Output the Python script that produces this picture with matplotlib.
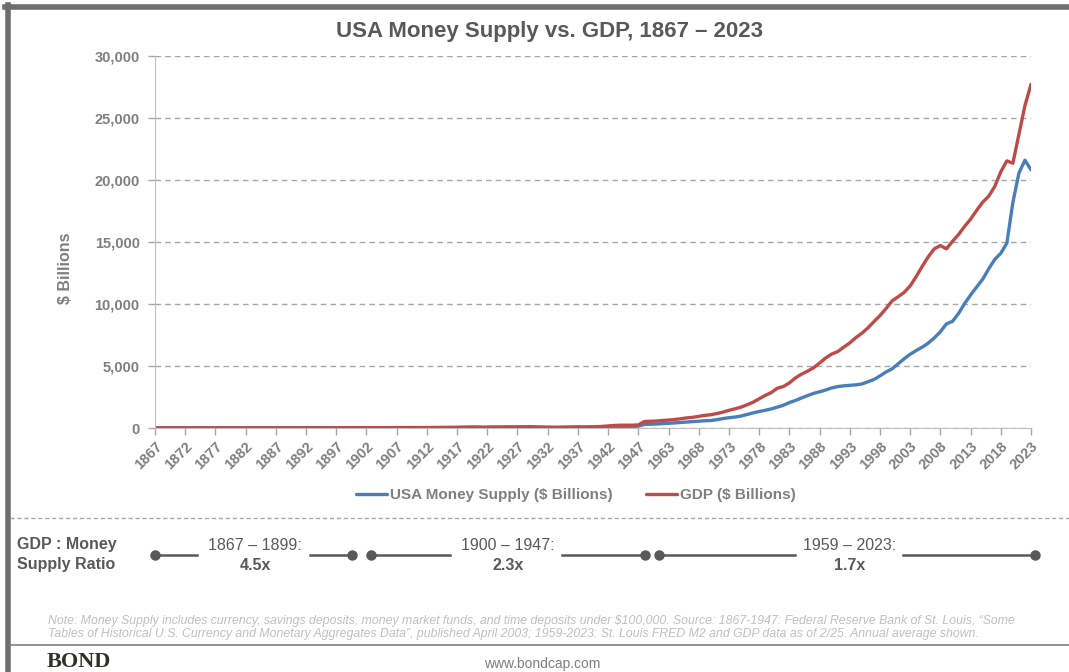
import matplotlib
matplotlib.use("Agg")
import matplotlib.pyplot as plt
from matplotlib.lines import Line2D
from matplotlib.ticker import FuncFormatter

plt.rcParams['font.family'] = ['Liberation Sans', 'DejaVu Sans']

# annual data, $ billions (1948-1958 not in the series)
years_early = list(range(1867, 1948))
years_late = list(range(1959, 2024))

money_early = [1.28, 1.30, 1.32, 1.35, 1.50, 1.60, 1.66, 1.70, 1.76, 1.74,
               1.70, 1.65, 1.78, 2.10, 2.55, 2.80, 2.95, 3.00, 3.10, 3.35,
               3.55, 3.65, 3.90, 4.19, 4.33, 4.70, 4.60, 4.60, 4.86, 4.83,
               5.10, 5.60, 6.40, 6.60, 7.48, 8.17, 8.68, 9.24, 10.2, 11.1,
               11.6, 11.4, 12.7, 13.3, 14.1, 15.1, 15.7, 16.4, 17.6, 20.8,
               24.4, 26.7, 31.0, 34.8, 32.8, 33.7, 36.6, 38.6, 42.1, 43.7,
               44.7, 46.4, 46.6, 45.7, 42.7, 36.0, 32.2, 34.4, 39.1, 43.5,
               45.7, 45.5, 49.3, 55.2, 62.5, 71.2, 89.9, 106.8, 126.6, 138.7,
               146.0]
gdp_early = [8.3, 8.1, 7.9, 7.8, 7.9, 8.6, 9.0, 8.9, 8.6, 8.6,
             8.9, 8.9, 9.5, 10.4, 10.9, 11.7, 11.8, 11.3, 11.1, 11.6,
             12.3, 12.4, 13.0, 13.5, 13.9, 14.3, 14.0, 12.9, 13.9, 13.7,
             14.3, 16.0, 17.3, 18.8, 20.6, 21.6, 22.9, 22.9, 25.0, 28.7,
             30.4, 27.9, 32.2, 33.4, 34.3, 37.4, 39.1, 36.5, 38.7, 49.6,
             59.7, 75.8, 78.3, 88.4, 73.6, 73.4, 85.4, 86.9, 90.6, 97.0,
             95.5, 97.4, 104.6, 92.2, 77.4, 59.5, 57.2, 66.8, 74.2, 84.8,
             93.0, 87.4, 93.4, 102.9, 129.3, 166.0, 203.1, 224.4, 228.0, 227.5,
             249.6]

money_late = [290, 305, 324, 350, 379, 410, 444, 472, 505, 549,
              584, 601, 674, 758, 831, 881, 964, 1087, 1220, 1323,
              1429, 1540, 1680, 1830, 2050, 2220, 2420, 2610, 2790, 2920,
              3060, 3230, 3340, 3400, 3440, 3480, 3550, 3730, 3910, 4200,
              4520, 4770, 5180, 5580, 5950, 6250, 6520, 6850, 7270, 7760,
              8400, 8600, 9230, 10030, 10720, 11370, 12000, 12830, 13600, 14090,
              14900, 18200, 20550, 21600, 20820]
gdp_late = [522, 543, 563, 605, 638, 686, 744, 815, 862, 943,
            1019, 1073, 1165, 1280, 1425, 1545, 1684, 1873, 2082, 2352,
            2627, 2857, 3207, 3344, 3634, 4037, 4339, 4580, 4855, 5236,
            5642, 5963, 6158, 6520, 6859, 7287, 7640, 8073, 8578, 9063,
            9631, 10251, 10582, 10936, 11458, 12214, 13037, 13815, 14452, 14713,
            14449, 15049, 15600, 16254, 16843, 17551, 18206, 18695, 19477, 20656,
            21540, 21354, 23681, 26007, 27721]

periods = ["1867 \u2013 1899:", "1900 \u2013 1947:", "1959 \u2013 2023:"]
ratios = ["4.5x", "2.3x", "1.7x"]

years = years_early + years_late
money = money_early + money_late
gdp = gdp_early + gdp_late
idx = list(range(len(years)))

W, H = 1069, 672
fig = plt.figure(figsize=(W / 100, H / 100), dpi=100)


def fx(x):
    return x / W


def fy(y):
    return 1 - y / H


ax = fig.add_axes([fx(155), fy(428), fx(1031) - fx(155), fy(56) - fy(428)])

blue = '#4a7ebb'
red = '#be4b48'
grey = '#595959'
label_grey = '#7f7f7f'

ax.plot(idx, money, color=blue, lw=2.4, label='USA Money Supply ($ Billions)', solid_capstyle='round')
ax.plot(idx, gdp, color=red, lw=2.4, label='GDP ($ Billions)', solid_capstyle='round')

ax.set_xlim(0, len(years) - 1)
ax.set_ylim(0, 30000)
ax.set_yticks(range(0, 30001, 5000))
ax.yaxis.set_major_formatter(FuncFormatter(lambda v, p: f'{int(v):,}'))
ax.set_xticks(idx[::5])
ax.set_xticklabels([str(y) for y in years[::5]], rotation=45, ha='right',
                   va='top', rotation_mode='anchor')
ax.tick_params(axis='both', color='#a6a6a6', labelcolor=label_grey, length=5, width=1)
ax.tick_params(axis='x', pad=3)
ax.tick_params(axis='y', pad=6)
for lab in ax.get_xticklabels() + ax.get_yticklabels():
    lab.set_fontweight('bold')
for lab in ax.get_xticklabels():
    lab.set_fontsize(10.5)
for lab in ax.get_yticklabels():
    lab.set_fontsize(10.5)

ax.grid(axis='y', linestyle=(0, (4, 3)), color='#a6a6a6', lw=1)
ax.set_axisbelow(True)
for s in ['top', 'right']:
    ax.spines[s].set_visible(False)
ax.spines['left'].set_color('#bfbfbf')
ax.spines['bottom'].set_color('#bfbfbf')
ax.spines['bottom'].set_zorder(0)

ax.set_ylabel('$ Billions', fontsize=11.5, fontweight='bold', color=label_grey)
ax.yaxis.set_label_coords(-0.094, 0.43)

fig.text(fx(549), fy(31), 'USA Money Supply vs. GDP, 1867 \u2013 2023', ha='center', va='center',
         fontsize=16, fontweight='bold', color=grey)

leg = fig.legend(loc='center', bbox_to_anchor=(fx(576), fy(495)), ncol=2, frameon=False,
                 fontsize=11, handlelength=2.0, columnspacing=2.2, handletextpad=0.2)
for t in leg.get_texts():
    t.set_fontweight('bold')
    t.set_color(label_grey)

# frame lines of the slide
fig.add_artist(Line2D([fx(5), 1], [fy(6.5), fy(6.5)], color='#6e6e6e', lw=4))
fig.add_artist(Line2D([fx(7.5), fx(7.5)], [fy(4.5), 0], color='#6e6e6e', lw=4))
fig.add_artist(Line2D([fx(10), 1], [fy(518), fy(518)], color='#a6a6a6', lw=1, linestyle=(0, (3, 2))))
fig.add_artist(Line2D([fx(10), 1], [fy(645), fy(645)], color='#808080', lw=1.2))

# GDP : money supply ratio row
fig.text(fx(17), fy(545), 'GDP : Money', fontsize=11.5, fontweight='bold', color=grey, va='center')
fig.text(fx(17), fy(565), 'Supply Ratio', fontsize=11.5, fontweight='bold', color=grey, va='center')

seg_px = [(155, 197, 310, 352, 255), (371, 450, 562, 645, 508), (659, 795, 903, 1035, 850)]
for (x0, x1, x2, x3, xc), per, r in zip(seg_px, periods, ratios):
    for a, b in [(x0, x1), (x2, x3)]:
        fig.add_artist(Line2D([fx(a), fx(b)], [fy(555), fy(555)], color=grey, lw=1.8))
    fig.add_artist(Line2D([fx(x0), fx(x3)], [fy(555), fy(555)], color=grey, lw=0,
                          marker='o', markersize=6.5))
    fig.text(fx(xc), fy(545), per, ha='center', va='center', fontsize=11.5, color=grey)
    fig.text(fx(xc), fy(565), r, ha='center', va='center', fontsize=11.5, fontweight='bold', color=grey)

note1 = ('Note: Money Supply includes currency, savings deposits, money market funds, and time deposits '
         'under $100,000. Source: 1867-1947: Federal Reserve Bank of St. Louis, \u201cSome')
note2 = ('Tables of Historical U.S. Currency and Monetary Aggregates Data\u201d, published April 2003; '
         '1959-2023: St. Louis FRED M2 and GDP data as of 2/25. Annual average shown.')
fig.text(fx(48), fy(621), note1, fontsize=8.85, style='italic', color='#bfbfbf', va='center')
fig.text(fx(48), fy(634), note2, fontsize=8.85, style='italic', color='#bfbfbf', va='center')

fig.text(fx(47), fy(662), 'BOND', fontsize=16, fontweight='bold', color='#2f3128', va='center',
         family=['Liberation Serif', 'DejaVu Serif'])
fig.text(fx(542), fy(664), 'www.bondcap.com', fontsize=10, color='#7f7f7f', ha='center', va='center')

fig.savefig('out.png', dpi=100)
